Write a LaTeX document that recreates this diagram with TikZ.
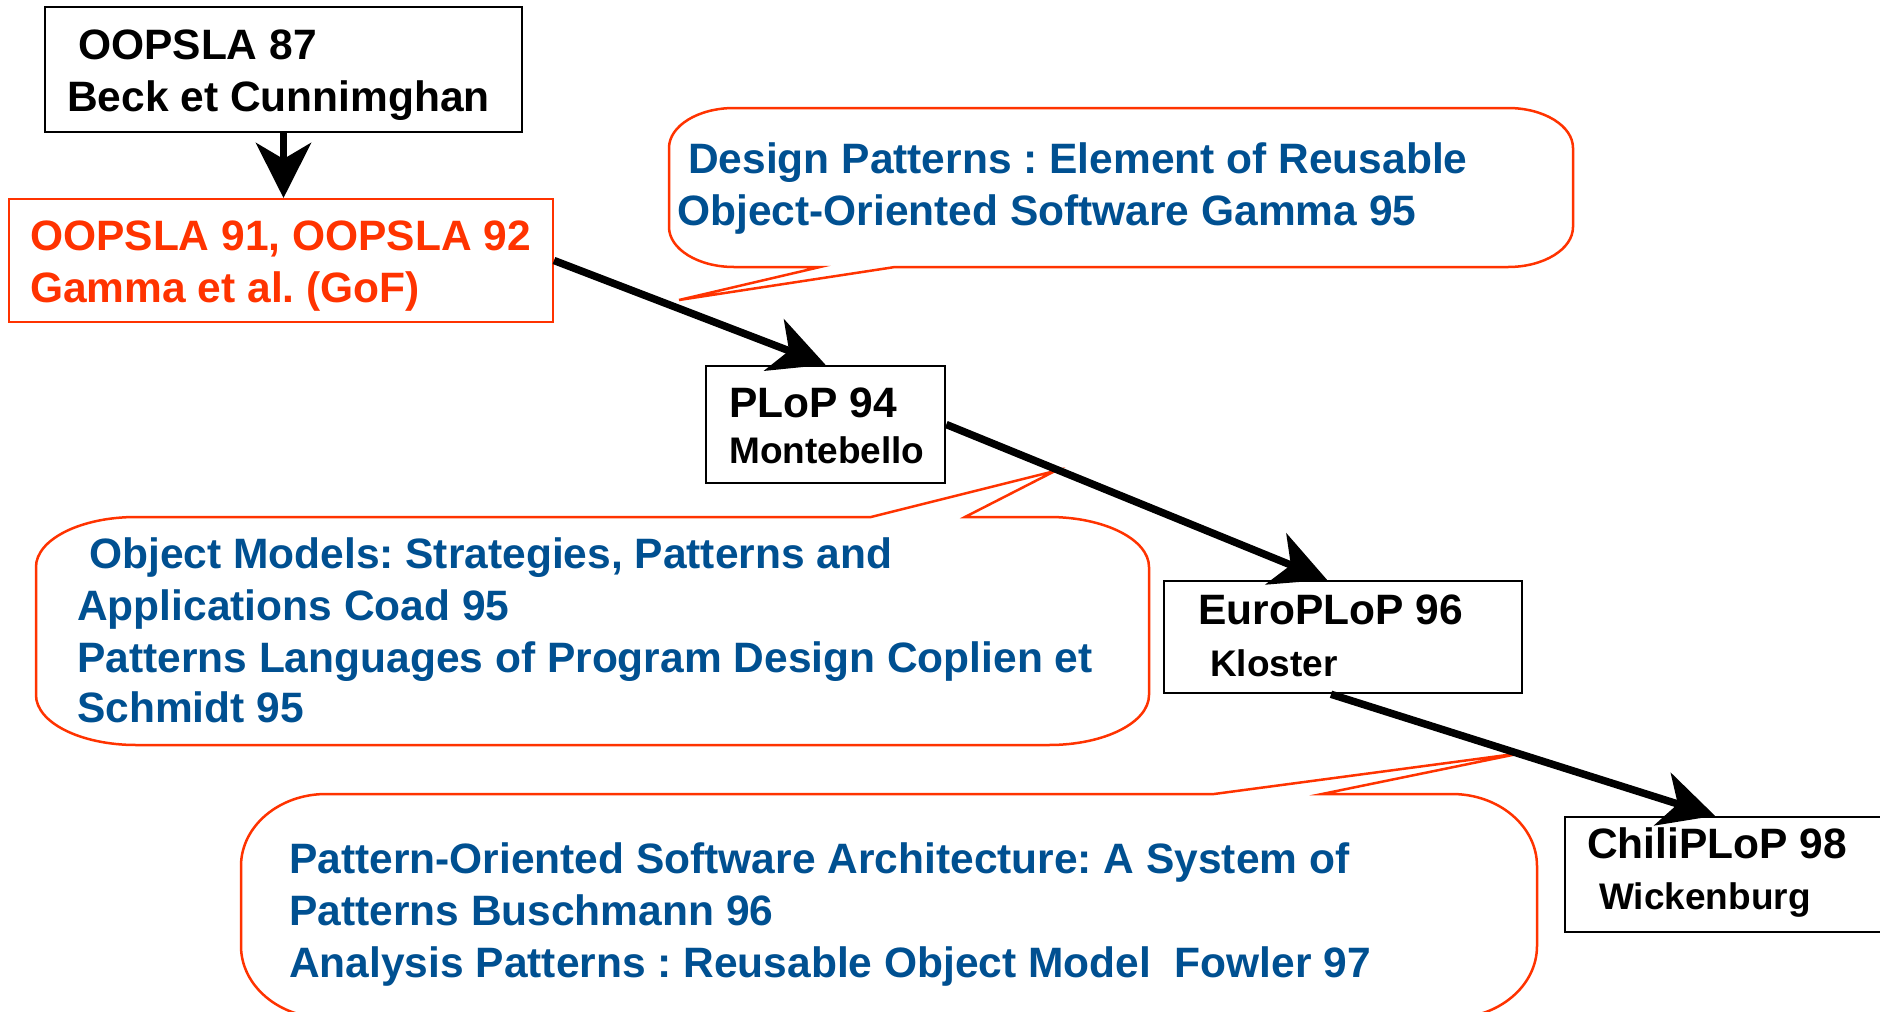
\documentclass[tikz,border=0pt]{standalone}
\usepackage{fontspec}
\setmainfont{Liberation Sans}
\usetikzlibrary{arrows.meta}
\definecolor{cred}{RGB}{255,51,0}
\definecolor{cblue}{RGB}{0,80,145}
\frenchspacing
\tikzset{
  boxb/.style={draw=black, line width=2.5pt, inner sep=0pt},
  boxr/.style={draw=cred, line width=2pt, inner sep=0pt},
  callout/.style={draw=cred, line width=2.5pt, line join=miter},
  big/.style={anchor=base west, inner sep=0pt, font=\bfseries\fontsize{42.5pt}{50pt}\selectfont},
  small/.style={anchor=base west, inner sep=0pt, font=\bfseries\fontsize{37pt}{44pt}\selectfont},
  conn/.style={line width=7.5pt, -{Stealth[length=55pt,width=55pt,inset=16pt]}},
}
\begin{document}
\begin{tikzpicture}[x=1pt,y=-1pt]
\useasboundingbox[fill=white] (0,0) rectangle (1880,1012);

% callouts
\draw[callout] (734,108) -- (1508,108) arc[start angle=-90,end angle=0,x radius=65,y radius=40]
  -- (1573,227) arc[start angle=0,end angle=90,x radius=65,y radius=40]
  -- (895,267) -- (679,300) -- (820,267) -- (734,267)
  arc[start angle=90,end angle=180,x radius=65,y radius=40]
  -- (669,148) arc[start angle=180,end angle=270,x radius=65,y radius=40] -- cycle;

\draw[callout] (136,517) -- (871,517) -- (1055,471) -- (965,517) -- (1049,517)
  arc[start angle=-90,end angle=0,x radius=100,y radius=50]
  -- (1149,695) arc[start angle=0,end angle=90,x radius=100,y radius=50]
  -- (136,745) arc[start angle=90,end angle=180,x radius=100,y radius=50]
  -- (36,567) arc[start angle=180,end angle=270,x radius=100,y radius=50] -- cycle;

\draw[callout] (326,794) -- (1214,794) -- (1522,753) -- (1322,794) -- (1452,794)
  arc[start angle=-90,end angle=0,x radius=85,y radius=72]
  -- (1537,946) arc[start angle=0,end angle=90,x radius=85,y radius=72]
  -- (326,1018) arc[start angle=90,end angle=180,x radius=85,y radius=72]
  -- (241,866) arc[start angle=180,end angle=270,x radius=85,y radius=72] -- cycle;

% boxes
\node[boxb, minimum width=477pt, minimum height=125pt] (b1) at (283.5,69.5) {};
\node[boxr, minimum width=544pt, minimum height=123pt] (b2) at (281,260.5) {};
\node[boxb, minimum width=239pt, minimum height=117pt] (plop) at (825.5,424.5) {};
\node[boxb, minimum width=358pt, minimum height=112pt] (euro) at (1343,637) {};
\node[boxb, minimum width=330pt, minimum height=115pt] (chili) at (1730,874.5) {};

% texts
\node[big] (t1a) at (78,59) {OOPSLA 87};
\node[big] (t1b) at (67,111) {Beck et Cunnimghan};
\node[big, text=cred] (t2a) at (30,250) {OOPSLA 91, OOPSLA 92};
\node[big, text=cred] (t2b) at (30,302) {Gamma et al. (GoF)};
\node[big, text=cblue] (c1a) at (688,173) {Design Patterns : Element of Reusable};
\node[big, text=cblue] (c1b) at (677,225) {Object-Oriented Software Gamma 95};
\node[big] (p1) at (729,417) {PLoP 94};
\node[small] (p2) at (729,463) {Montebello};
\node[big, text=cblue] (c2a) at (89,568) {Object Models: Strategies, Patterns and};
\node[big, text=cblue] (c2b) at (77,620) {Applications Coad 95};
\node[big, text=cblue] (c2c) at (77,672) {Patterns Languages of Program Design Coplien et};
\node[big, text=cblue] (c2d) at (77,722) {Schmidt 95};
\node[big] (e1) at (1198,624) {EuroPLoP 96};
\node[small] (e2) at (1210,676) {Kloster};
\node[big, text=cblue] (c3a) at (289,873) {Pattern-Oriented Software Architecture: A System of};
\node[big, text=cblue] (c3b) at (289,925) {Patterns Buschmann 96};
\node[big, text=cblue] (c3c) at (289,977) {Analysis Patterns : Reusable Object Model~~Fowler 97};
\node[big] (ch1) at (1587,858) {ChiliPLoP 98};
\node[small] (ch2) at (1599,909) {Wickenburg};

% connectors
\draw[conn] (b1.south) -- (b1.south |- b2.north);
\draw[conn] (b2.east) -- (plop.north);
\draw[conn] (plop.east) -- ([xshift=-16pt]euro.north);
\draw[conn] ([xshift=-12pt]euro.south) -- ([xshift=-15pt]chili.north);
\end{tikzpicture}
\end{document}
